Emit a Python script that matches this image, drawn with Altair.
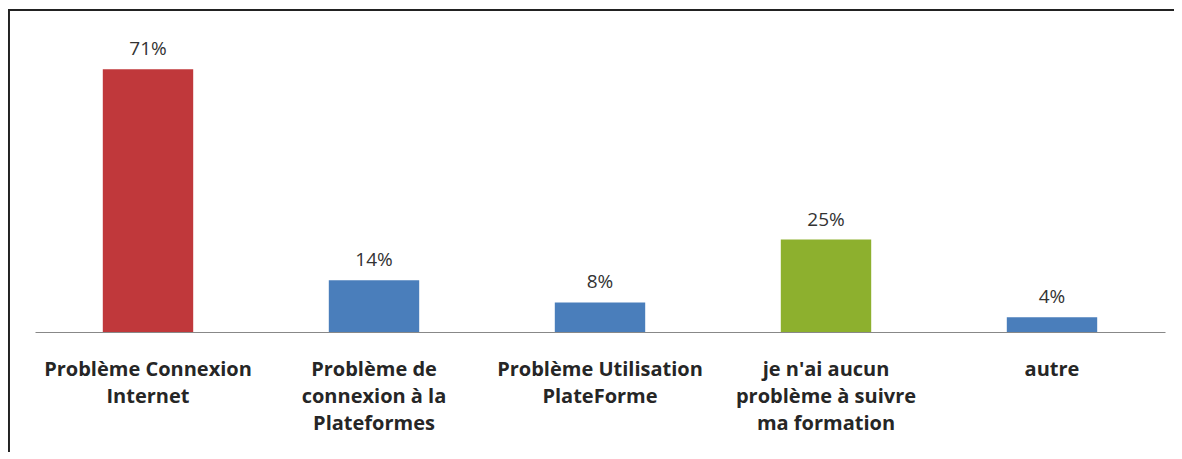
import altair as alt
import pandas as pd

categories = [
    "Problème Connexion\nInternet",
    "Problème de\nconnexion à la\nPlateformes",
    "Problème Utilisation\nPlateForme",
    "je n'ai aucun\nproblème à suivre\nma formation",
    "autre",
]
values = [71, 14, 8, 25, 4]
colors = ["#C0383B", "#4A7EBB", "#4A7EBB", "#8DB02E", "#4A7EBB"]

df = pd.DataFrame({"cat": categories, "val": values, "color": colors})
df["label"] = df["val"].astype(str) + "%"

W, H = 1130, 296

x = alt.X("cat:N", sort=categories, title=None,
          scale=alt.Scale(paddingInner=0.6, paddingOuter=0.3),
          axis=alt.Axis(labelAngle=0, labelExpr="split(datum.label, '\\n')",
                        labelFont="Open Sans", labelFontWeight="bold", labelFontSize=20,
                        labelColor="#262626", labelLineHeight=27, labelPadding=27,
                        ticks=False, domainColor="#888888", domainWidth=1.2,
                        labelLimit=300))
y = alt.Y("val:Q", scale=alt.Scale(domain=[0, 80]), axis=None)

bars = alt.Chart(df).mark_bar().encode(
    x=x, y=y, color=alt.Color("color:N", scale=None)
)
texts = alt.Chart(df).mark_text(dy=-14, baseline="alphabetic", font="Open Sans",
                                fontSize=19, color="#333333").encode(
    x=alt.X("cat:N", sort=categories), y=y, text="label:N"
)
frame_top = alt.Chart(df).mark_rule(color="#222222", strokeWidth=2, clip=False).encode(
    x=alt.value(-27), x2=alt.value(W + 60), y=alt.value(-26)
)
frame_left = alt.Chart(df).mark_rule(color="#222222", strokeWidth=2, clip=False).encode(
    x=alt.value(-26.5), y=alt.value(-27), y2=alt.value(H + 140)
)

chart = alt.layer(frame_top, frame_left, bars, texts).properties(
    width=W, height=H,
    autosize=alt.AutoSizeParams(type="none"),
    padding={"left": 27, "top": 28, "right": 9, "bottom": 120},
).configure(background="white", view=alt.ViewConfig(stroke=None))

chart.save("out.html", embed_options={"renderer": "svg", "actions": False})
